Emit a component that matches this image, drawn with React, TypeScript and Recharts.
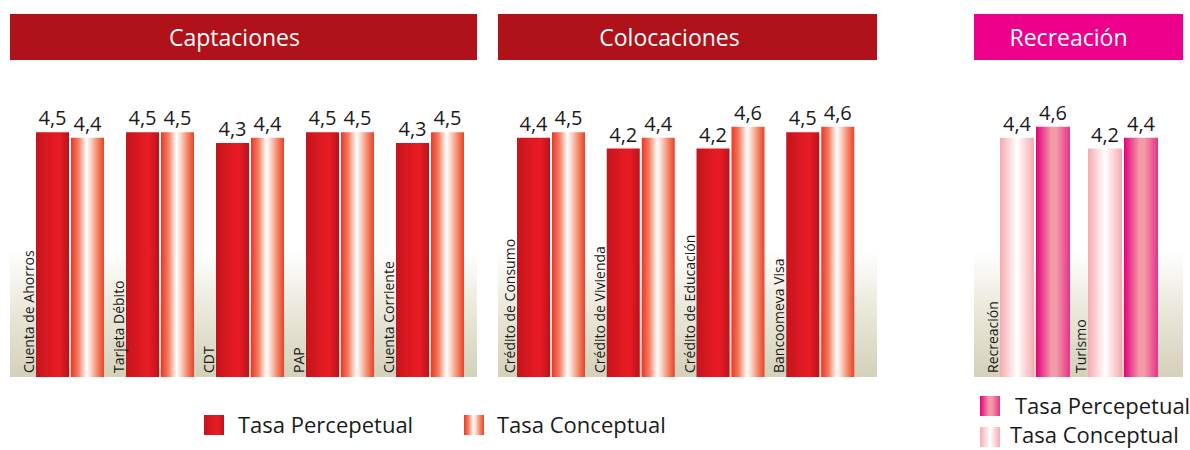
import React from 'react';
import { BarChart, Bar, XAxis, YAxis, LabelList } from 'recharts';

const FONT = '"Open Sans", "Noto Sans", sans-serif';

// Captaciones
const captacionesCats = ['Cuenta de Ahorros', 'Tarjeta Débito', 'CDT', 'PAP', 'Cuenta Corriente'];
const captacionesPerceptual = [4.5, 4.5, 4.3, 4.5, 4.3];
const captacionesConceptual = [4.4, 4.5, 4.4, 4.5, 4.5];

// Colocaciones
const colocacionesCats = ['Crédito de Consumo', 'Crédito de Vivienda', 'Crédito de Educación', 'Bancoomeva Visa'];
const colocacionesPerceptual = [4.4, 4.2, 4.2, 4.5];
const colocacionesConceptual = [4.5, 4.4, 4.6, 4.6];

// Recreación (light bar drawn first, magenta second)
const recreacionCats = ['Recreación', 'Turismo'];
const recreacionConceptual = [4.4, 4.2];
const recreacionPerceptual = [4.6, 4.4];

type Stop = [number, string];
const RED_SOLID: Stop[] = [[0, '#c3151d'], [0.45, '#de1a22'], [0.7, '#e81c25'], [1, '#b9131b']];
const RED_LIGHT: Stop[] = [[0, '#ec3626'], [0.22, '#f27d5f'], [0.47, '#ffffff'], [0.6, '#fbd5c8'], [0.82, '#f2805f'], [1, '#e9412c']];
const PINK_SOLID: Stop[] = [[0, '#e4007d'], [0.45, '#f29aa6'], [0.6, '#f39aa8'], [1, '#e63289']];
const PINK_LIGHT: Stop[] = [[0, '#f6abb0'], [0.5, '#ffffff'], [1, '#f5aab0']];

const cssGradient = (stops: Stop[]) =>
  `linear-gradient(to right, ${stops.map(([o, c]) => `${c} ${o * 100}%`).join(', ')})`;

const fmt = (v: any) => Number(v).toFixed(1).replace('.', ',');

const CatLabel = (props: any) => {
  const { x, y, height, value } = props;
  const bx = Number(x) - 2;
  const by = Number(y) + Number(height) - 4;
  return (
    <text x={bx} y={by} transform={`rotate(-90 ${bx} ${by})`} fontSize={14} fontFamily={FONT} fill="#1a1a1a">
      {value}
    </text>
  );
};

interface SeriesDef {
  key: string;
  values: number[];
  stops: Stop[];
}

interface PanelProps {
  id: string;
  title: string;
  titleColor: string;
  titleShift: number;
  cats: string[];
  series: SeriesDef[];
  left: number;
  width: number;
  plotLeft: number;
  plotRight: number;
  barSize: number;
}

const Panel: React.FC<PanelProps> = ({ id, title, titleColor, titleShift, cats, series, left, width, plotLeft, plotRight, barSize }) => {
  const data = cats.map((name, i) => {
    const row: any = { name };
    series.forEach(s => { row[s.key] = s.values[i]; });
    return row;
  });
  return (
    <>
      <div style={{
        position: 'absolute', left, top: 14, width, height: 46, background: titleColor,
        color: '#fff', fontFamily: FONT, fontSize: 23, lineHeight: '46px', textAlign: 'center',
        paddingRight: titleShift * 2, boxSizing: 'border-box'
      }}>{title}</div>
      <div style={{
        position: 'absolute', left, top: 250, width, height: 127,
        background: 'linear-gradient(to bottom, #ffffff 0%, #ebe9dc 45%, #d4d0b9 100%)'
      }} />
      <div style={{ position: 'absolute', left, top: 80 }}>
        <BarChart
          width={width}
          height={300}
          data={data}
          barSize={barSize}
          barGap={2}
          margin={{ top: 25, bottom: 3, left: plotLeft - left, right: left + width - plotRight }}
        >
          <defs>
            {series.map(s => (
              <linearGradient key={s.key} id={`${id}-${s.key}`} x1="0" y1="0" x2="1" y2="0">
                {s.stops.map(([o, c], j) => <stop key={j} offset={o} stopColor={c} />)}
              </linearGradient>
            ))}
          </defs>
          <XAxis dataKey="name" hide />
          <YAxis hide domain={[0, 5]} />
          {series.map((s, si) => (
            <Bar key={s.key} dataKey={s.key} fill={`url(#${id}-${s.key})`} isAnimationActive={false}>
              <LabelList dataKey={s.key} position="top" offset={7} formatter={fmt}
                fontSize={20} fontFamily={FONT} fill="#1a1a1a" />
              {si === 0 && <LabelList dataKey="name" content={CatLabel} />}
            </Bar>
          ))}
        </BarChart>
      </div>
    </>
  );
};

const Swatch: React.FC<{ left: number; top: number; stops: Stop[]; label: string; textLeft: number; textTop?: number }> = ({ left, top, stops, label, textLeft, textTop }) => (
  <>
    <div style={{ position: 'absolute', left, top, width: 20, height: 20, background: cssGradient(stops) }} />
    <div style={{
      position: 'absolute', left: textLeft, top: textTop ?? top - 5, height: 28, lineHeight: '28px',
      fontFamily: FONT, fontSize: 22, color: '#1a1a1a', whiteSpace: 'nowrap'
    }}>{label}</div>
  </>
);

export default function App() {
  return (
    <div style={{ position: 'absolute', left: 0, top: 0, width: 1190, height: 450, background: '#fff', overflow: 'hidden' }}>
      <Panel
        id="cap" title="Captaciones" titleColor="#b0121a" titleShift={9}
        cats={captacionesCats}
        series={[
          { key: 'perceptual', values: captacionesPerceptual, stops: RED_SOLID },
          { key: 'conceptual', values: captacionesConceptual, stops: RED_LIGHT },
        ]}
        left={10} width={467} plotLeft={25} plotRight={475} barSize={33}
      />
      <Panel
        id="col" title="Colocaciones" titleColor="#b0121a" titleShift={18}
        cats={colocacionesCats}
        series={[
          { key: 'perceptual', values: colocacionesPerceptual, stops: RED_SOLID },
          { key: 'conceptual', values: colocacionesConceptual, stops: RED_LIGHT },
        ]}
        left={498} width={379} plotLeft={506} plotRight={865} barSize={33}
      />
      <Panel
        id="rec" title="Recreación" titleColor="#ec008c" titleShift={10}
        cats={recreacionCats}
        series={[
          { key: 'conceptual', values: recreacionConceptual, stops: PINK_LIGHT },
          { key: 'perceptual', values: recreacionPerceptual, stops: PINK_SOLID },
        ]}
        left={974} width={209} plotLeft={991} plotRight={1167} barSize={34}
      />
      <Swatch left={204} top={415} stops={RED_SOLID} label="Tasa Percepetual" textLeft={238} />
      <Swatch left={464} top={415} stops={RED_LIGHT} label="Tasa Conceptual" textLeft={497} />
      <Swatch left={980} top={396} stops={PINK_SOLID} label="Tasa Percepetual" textLeft={1015} />
      <Swatch left={980} top={427} stops={PINK_LIGHT} label="Tasa Conceptual" textLeft={1010} textTop={420} />
    </div>
  );
}
